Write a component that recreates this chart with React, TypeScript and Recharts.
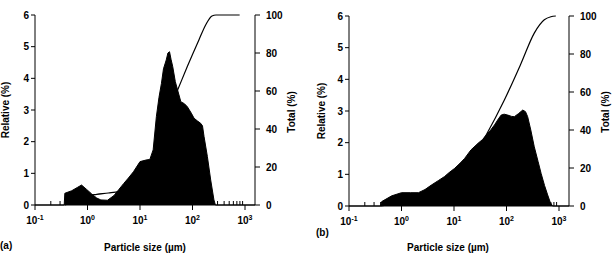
import React from 'react';
import { ComposedChart, Area, Line, XAxis, YAxis } from 'recharts';

// panel (a)
const sizesA = [0.1, 0.36, 0.37, 0.5, 0.65, 0.77, 0.95, 1.2, 1.5, 1.8, 2.4, 3.2, 4.0, 4.9, 6.0, 7.5, 10, 13, 15.4, 17.8, 20.5, 23, 25.6, 28, 31.6, 34, 36.5, 39, 42, 47, 52, 60, 70, 80, 95, 107, 125, 143, 155, 166, 192, 222, 256, 273, 1550];
const relativeA = [0, 0, 0.37, 0.45, 0.56, 0.63, 0.5, 0.35, 0.22, 0.16, 0.15, 0.3, 0.5, 0.68, 0.85, 1.05, 1.37, 1.42, 1.44, 1.74, 2.79, 3.4, 3.84, 4.3, 4.58, 4.8, 4.84, 4.6, 4.37, 3.9, 3.63, 3.26, 3.2, 3.1, 2.9, 2.74, 2.65, 2.58, 2.5, 2.16, 1.53, 0.79, 0.16, 0, 0];
const cumSizesA = [0.37, 0.55, 0.75, 1.0, 1.5, 2.5, 4, 6, 10, 15, 20, 30, 40, 52, 80, 133, 180, 235, 280, 790];
const totalA = [0, 1.5, 3.2, 4.8, 5.6, 6.3, 7.2, 9, 14, 20, 28, 42, 53, 60.5, 73, 87, 95, 99.5, 100, 100];

// panel (b)
const sizesB = [0.1, 0.4, 0.42, 0.65, 1.0, 1.5, 2.1, 2.8, 3.7, 5, 6.6, 8, 10.3, 13, 15.9, 21, 28.7, 35, 41, 50, 59, 70, 79, 90, 106, 125, 141, 170, 204, 230, 253, 290, 338, 400, 456, 530, 608, 680, 752, 1550];
const relativeB = [0, 0, 0.14, 0.32, 0.42, 0.42, 0.42, 0.52, 0.66, 0.8, 0.93, 1.05, 1.19, 1.35, 1.5, 1.77, 1.98, 2.1, 2.24, 2.4, 2.56, 2.75, 2.87, 2.9, 2.87, 2.83, 2.82, 2.92, 3.03, 2.98, 2.82, 2.4, 1.87, 1.4, 1.03, 0.65, 0.35, 0.12, 0, 0];
const cumSizesB = [0.4, 0.7, 1, 2, 5, 10, 20, 41, 91, 189, 338, 525, 700, 870];
const totalB = [0, 0.8, 1.6, 3.5, 8, 14, 23, 37.4, 55.8, 75, 91, 98, 99.6, 100];

const majorTicks = [0.1, 1, 10, 100, 1000];
const majorExp = ['-1', '0', '1', '2', '3'];
const minorTicks = [0.2, 0.3, 0.4, 0.5, 0.6, 0.7, 0.8, 0.9, 2, 3, 4, 5, 6, 7, 8, 9, 20, 30, 40, 50, 60, 70, 80, 90, 200, 300, 400, 500, 600, 700, 800, 900];
const relTicks = [0, 1, 2, 3, 4, 5, 6];
const totalTicks = [0, 20, 40, 60, 80, 100];

const FONT = '"Liberation Sans", Arial, sans-serif';
const tickStyle = { fontSize: 10, fontWeight: 'bold', fill: '#000', fontFamily: FONT };

const zip = (xs: number[], ys: number[], key: string) => xs.map((x, i) => ({ size: x, [key]: ys[i] }));

const XTick = (props: any) => {
  const { x, y, payload } = props;
  const idx = majorTicks.indexOf(payload.value);
  if (idx < 0) {
    return <line x1={x} x2={x} y1={y} y2={y - 4} stroke="#000" strokeWidth={1} />;
  }
  return (
    <g>
      <line x1={x} x2={x} y1={y} y2={y + 5} stroke="#000" strokeWidth={1} />
      <text x={x} y={y + 19} textAnchor="middle" fontSize={10} fontWeight="bold" fontFamily={FONT} fill="#000">
        <tspan>10</tspan>
        <tspan dy={-4} fontSize={7}>{majorExp[idx]}</tspan>
      </text>
    </g>
  );
};

const Panel = ({ sizes, relative, cumSizes, total, marginLeft, marginRight, rightWidth, top }: any) => {
  const hist = zip(sizes, relative, 'rel');
  const cum = zip(cumSizes, total, 'total');
  return (
    <ComposedChart
      width={marginLeft + 30 + 220 + rightWidth + marginRight}
      height={258}
      margin={{ top, right: marginRight, left: marginLeft, bottom: 258 - top - 190 - 30 }}
    >
      <XAxis
        dataKey="size"
        type="number"
        scale="log"
        domain={[0.1, 1550]}
        ticks={[...majorTicks, ...minorTicks]}
        interval={0}
        allowDataOverflow
        tickSize={0}
        tickMargin={0}
        tickLine={false}
        tick={<XTick />}
        stroke="#000"
        height={30}
      />
      <YAxis
        yAxisId="rel"
        domain={[0, 6]}
        ticks={relTicks}
        interval={0}
        width={30}
        tickSize={4}
        tickMargin={2}
        tick={tickStyle}
        stroke="#000"
      />
      <YAxis
        yAxisId="total"
        orientation="right"
        domain={[0, 100]}
        ticks={totalTicks}
        interval={0}
        width={rightWidth}
        tickSize={5}
        tickMargin={6}
        tick={{ ...tickStyle, textAnchor: 'start' }}
        stroke="#000"
      />
      <Area
        data={hist}
        yAxisId="rel"
        dataKey="rel"
        type="linear"
        stroke="#000"
        strokeWidth={1}
        fill="#000"
        fillOpacity={1}
        isAnimationActive={false}
      />
      <Line
        data={cum}
        yAxisId="total"
        dataKey="total"
        type="monotone"
        stroke="#000"
        strokeWidth={1.2}
        dot={false}
        isAnimationActive={false}
      />
    </ComposedChart>
  );
};

const labelProps = { fontSize: 10, fontWeight: 'bold' as const, fontFamily: FONT, fill: '#000' };

export default function App() {
  return (
    <div style={{ position: 'absolute', left: 0, top: 0, width: 613, height: 258, background: '#fff', overflow: 'hidden' }}>
      <div style={{ position: 'absolute', left: 0, top: 0 }}>
        <Panel sizes={sizesA} relative={relativeA} cumSizes={cumSizesA} total={totalA} marginLeft={5} marginRight={6} rightWidth={45} top={15} />
      </div>
      <div style={{ position: 'absolute', left: 306, top: 0 }}>
        <Panel sizes={sizesB} relative={relativeB} cumSizes={cumSizesB} total={totalB} marginLeft={13} marginRight={4} rightWidth={40} top={16} />
      </div>
      <svg width={613} height={258} style={{ position: 'absolute', left: 0, top: 0, pointerEvents: 'none' }}>
        <text {...labelProps} x={145} y={251} textAnchor="middle">Particle size (µm)</text>
        <text {...labelProps} x={448} y={251} textAnchor="middle">Particle size (µm)</text>
        <text {...labelProps} x={0} y={249}>(a)</text>
        <text {...labelProps} x={316} y={236}>(b)</text>
        <text {...labelProps} x={0} y={0} textAnchor="middle" transform="translate(9,110) rotate(-90)">Relative (%)</text>
        <text {...labelProps} x={0} y={0} textAnchor="middle" transform="translate(325,111) rotate(-90)">Relative (%)</text>
        <text {...labelProps} x={0} y={0} textAnchor="middle" transform="translate(295,112) rotate(-90)">Total (%)</text>
        <text {...labelProps} x={0} y={0} textAnchor="middle" transform="translate(609,112) rotate(-90)">Total (%)</text>
      </svg>
    </div>
  );
}
